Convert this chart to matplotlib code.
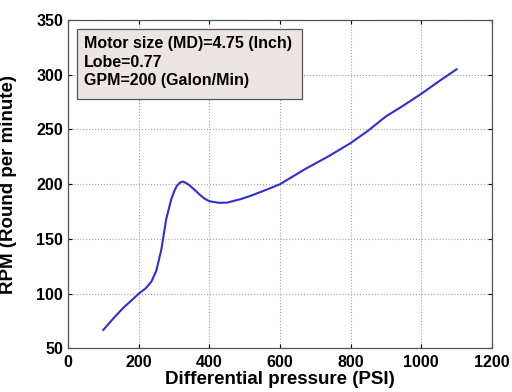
import matplotlib
matplotlib.use("Agg")
import matplotlib.pyplot as plt
from matplotlib.patches import Rectangle

plt.rcParams['font.family'] = ['Liberation Sans', 'DejaVu Sans']

pressure = [100, 130, 156, 180, 200, 220, 236, 250, 264, 278, 292, 300, 308, 317, 325,
            335, 344, 358, 372, 386, 400, 428, 450, 466, 490, 513, 550, 600, 672, 740,
            800, 850, 898, 950, 1000, 1050, 1100]
rpm = [67, 78, 87, 94, 100, 105, 111, 121, 140, 168, 186, 193, 198.5, 201.5, 202.5,
       201, 199, 195, 190.7, 187, 184.5, 183, 183.2, 184.5, 186.5, 189, 193.5, 200, 214, 226,
       237.6, 249, 261.5, 272, 282.6, 294, 305]

xticks = [0, 200, 400, 600, 800, 1000, 1200]
yticks = [50, 100, 150, 200, 250, 300, 350]
info_lines = ["Motor size (MD)=4.75 (Inch)", "Lobe=0.77", "GPM=200 (Galon/Min)"]

fig = plt.figure(figsize=(5.12, 3.92), dpi=100)
ax = fig.add_axes([0.1328, 0.111, 0.828, 0.838])
ax.plot(pressure, rpm, color="#2f2fd0", lw=1.5)
ax.set_xlim(0, 1200)
ax.set_ylim(50, 350)
ax.set_xticks(xticks)
ax.set_yticks(yticks)
ax.tick_params(direction="in", top=True, right=True, length=3, width=0.8,
               labelsize=11.5)
ax.tick_params(axis="x", pad=4.5)
ax.tick_params(axis="y", pad=3.5)
for lbl in ax.get_xticklabels() + ax.get_yticklabels():
    lbl.set_fontweight("bold")
ax.grid(True, linestyle=":", color="#a0a0a0", lw=0.8)
for s in ax.spines.values():
    s.set_color("#555555")
    s.set_linewidth(0.9)
ax.set_xlabel("Differential pressure (PSI)", fontsize=13.5, fontweight="bold", labelpad=1)
ax.set_ylabel("RPM (Round per minute)", fontsize=13.5, fontweight="bold", labelpad=14)

ax.add_patch(Rectangle((0.022, 0.7586), 0.529, 0.2131, transform=ax.transAxes,
                       facecolor="#ede5e3", edgecolor="#555555", lw=0.9, zorder=3))
for line, yb in zip(info_lines, [0.914, 0.858, 0.802]):
    ax.text(0.0377, yb, line, transform=ax.transAxes, fontsize=11.5,
            fontweight="bold", va="baseline", ha="left", zorder=4)
fig.savefig("out.png", dpi=100)
